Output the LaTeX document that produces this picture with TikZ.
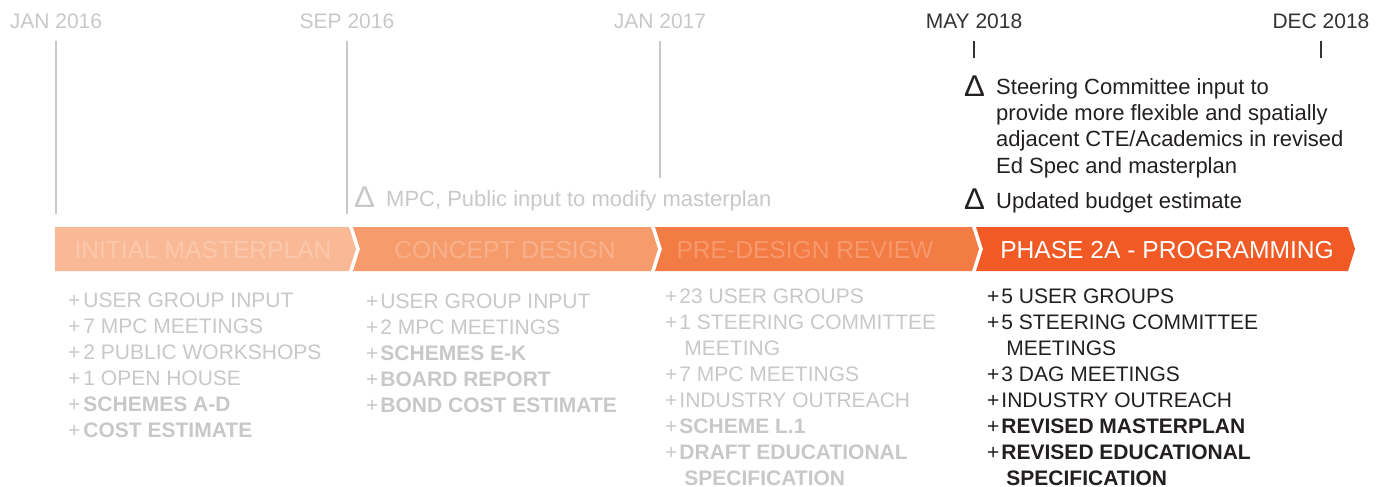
\documentclass[tikz,border=0pt]{standalone}
\usepackage{fontspec}
\setmainfont{Liberation Sans}
\usetikzlibrary{positioning}

\definecolor{faded}{HTML}{C8C8C8}
\definecolor{ink}{HTML}{231F20}
\definecolor{dateink}{HTML}{333333}
\definecolor{phaseA}{HTML}{FAB996}
\definecolor{phaseB}{HTML}{F69B6C}
\definecolor{phaseC}{HTML}{F37C44}
\definecolor{phaseD}{HTML}{F15A24}

\newcommand{\changemark}{\scalebox{1.3}[1.25]{Δ}}

\begin{document}
\begin{tikzpicture}[x=1pt, y=-1pt,
	date/.style={inner sep=0, anchor=base, font=\fontsize{21}{25}\selectfont},
	tick/.style={faded, line width=1.2pt},
	deltamark/.style={inner sep=0, anchor=base west, font=\fontsize{24}{26}\selectfont},
	note/.style={inner sep=0, anchor=base west, font=\fontsize{22}{26}\selectfont},
	phase/.style={inner sep=0, anchor=base, font=\fontsize{24.6}{28}\selectfont},
	list/.style={inner sep=0, anchor=base west, font=\fontsize{21}{26}\selectfont}]

		\useasboundingbox (0,0) rectangle (1387,487);

		% dates
		\node [date, faded](jan16) at (56,29) {JAN 2016};
		\node [date, faded](sep16) at (347,29) {SEP 2016};
		\node [date, faded](jan17) at (660,29) {JAN 2017};
		\node [date, dateink](may18) at (974,29) {MAY 2018};
		\node [date, dateink](dec18) at (1321,29) {DEC 2018};

		\coordinate (jan16end) at (56,214);
		\coordinate (sep16end) at (347,214);
		\coordinate (jan17end) at (660,178);
		\coordinate (may18end) at (974,58);
		\coordinate (dec18end) at (1321,58);
		\draw [tick](jan16.south) ++ (0,12) -- (jan16end);
		\draw [tick](sep16.south) ++ (0,12) -- (sep16end);
		\draw [tick](jan17.south) ++ (0,12) -- (jan17end);
		\draw [tick, dateink](may18.south) ++ (0,12) -- (may18end);
		\draw [tick, dateink](dec18.south) ++ (0,12) -- (dec18end);

		% notes
		\node [deltamark, faded](mpcmark) at (354,207) {\changemark};
		\node [note, faded](mpcnote) at (386,206) {MPC, Public input to modify masterplan};
		\node [deltamark, ink](steermark) at (964,96) {\changemark};
		\node [note, ink](steernote) at (996,95) {\begin{tabular}[t]{@{}l@{}}
			Steering Committee input to\\
			provide more flexible and spatially\\
			adjacent CTE/Academics in revised\\
			Ed Spec and masterplan
		\end{tabular}};
		\node [deltamark, ink](budgetmark) at (964,209) {\changemark};
		\node [note, ink](budgetnote) at (996,208) {Updated budget estimate};

		% phases
		\fill [phaseA](55,227) -- (349,227) -- (356,249) -- (349,271) -- (55,271) -- cycle;
		\fill [phaseB](353,227) -- (651,227) -- (658,249) -- (651,271) -- (353,271) -- (360,249) -- cycle;
		\fill [phaseC](655,227) -- (972,227) -- (979,249) -- (972,271) -- (655,271) -- (662,249) -- cycle;
		\fill [phaseD](976,227) -- (1348,227) -- (1355,249) -- (1348,271) -- (976,271) -- (983,249) -- cycle;
		\node [phase, white!22!phaseA](initial) at (203,258) {INITIAL MASTERPLAN};
		\node [phase, white!22!phaseB](concept) at (505,258) {CONCEPT DESIGN};
		\node [phase, white!22!phaseC](predesign) at (805,258) {PRE-DESIGN REVIEW};
		\node [phase, white](programming) at (1167,258) {PHASE 2A - PROGRAMMING};

		% items
		\node [list, faded](initialitems) at (68,307) {\begin{tabular}[t]{@{}l@{\hspace{3pt}}l@{}}
			+ & USER GROUP INPUT\\
			+ & 7 MPC MEETINGS\\
			+ & 2 PUBLIC WORKSHOPS\\
			+ & 1 OPEN HOUSE\\
			+ & \textbf{SCHEMES A-D}\\
			+ & \textbf{COST ESTIMATE}
		\end{tabular}};
		\node [list, faded](conceptitems) at (366,308) {\begin{tabular}[t]{@{}l@{\hspace{2pt}}l@{}}
			+ & USER GROUP INPUT\\
			+ & 2 MPC MEETINGS\\
			+ & \textbf{SCHEMES E-K}\\
			+ & \textbf{BOARD REPORT}\\
			+ & \textbf{BOND COST ESTIMATE}
		\end{tabular}};
		\node [list, faded](predesignitems) at (665,303) {\begin{tabular}[t]{@{}l@{\hspace{2pt}}l@{}}
			+ & 23 USER GROUPS\\
			+ & 1 STEERING COMMITTEE\\
			  & \hspace{5pt}MEETING\\
			+ & 7 MPC MEETINGS\\
			+ & INDUSTRY OUTREACH\\
			+ & \textbf{SCHEME L.1}\\
			+ & \textbf{DRAFT EDUCATIONAL}\\
			  & \hspace{5pt}\textbf{SPECIFICATION}
		\end{tabular}};
		\node [list, ink](programmingitems) at (987,303) {\begin{tabular}[t]{@{}l@{\hspace{2pt}}l@{}}
			+ & 5 USER GROUPS\\
			+ & 5 STEERING COMMITTEE\\
			  & \hspace{5pt}MEETINGS\\
			+ & 3 DAG MEETINGS\\
			+ & INDUSTRY OUTREACH\\
			+ & \textbf{REVISED MASTERPLAN}\\
			+ & \textbf{REVISED EDUCATIONAL}\\
			  & \hspace{5pt}\textbf{SPECIFICATION}
		\end{tabular}};
	\end{tikzpicture}
\end{document}
